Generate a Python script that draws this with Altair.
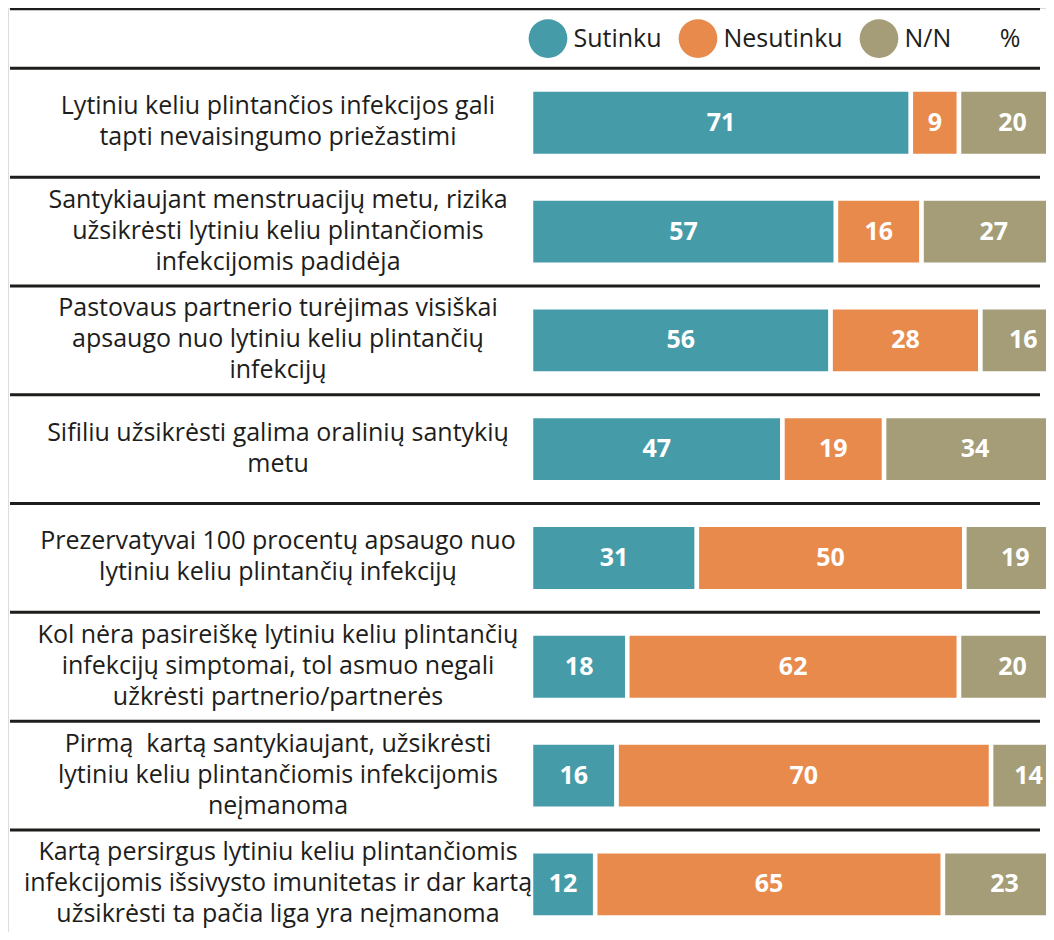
import altair as alt
import pandas as pd

# ---------------- data ----------------
statements = [
    "Lytiniu keliu plintančios infekcijos gali\ntapti nevaisingumo priežastimi",
    "Santykiaujant menstruacijų metu, rizika\nužsikrėsti lytiniu keliu plintančiomis\ninfekcijomis padidėja",
    "Pastovaus partnerio turėjimas visiškai\napsaugo nuo lytiniu keliu plintančių\ninfekcijų",
    "Sifiliu užsikrėsti galima oralinių santykių\nmetu",
    "Prezervatyvai 100 procentų apsaugo nuo\nlytiniu keliu plintančių infekcijų",
    "Kol nėra pasireiškę lytiniu keliu plintančių\ninfekcijų simptomai, tol asmuo negali\nužkrėsti partnerio/partnerės",
    "Pirmą\u00a0 kartą santykiaujant, užsikrėsti\nlytiniu keliu plintančiomis infekcijomis\nneįmanoma",
    "Kartą persirgus lytiniu keliu plintančiomis\ninfekcijomis išsivysto imunitetas ir dar kartą\nužsikrėsti ta pačia liga yra neįmanoma",
]
categories = ["Sutinku", "Nesutinku", "N/N"]
sutinku = [71, 57, 56, 47, 31, 18, 16, 12]
nesutinku = [9, 16, 28, 19, 50, 62, 70, 65]
nn = [20, 27, 16, 34, 19, 20, 14, 23]
unit_label = ["%"]

colors = ["#459CA8", "#E88A4C", "#A49D78"]
FONT = "Open Sans"
INK = "#1d1d1b"

# ---------------- tables ----------------
rows = []
for i, vals in enumerate(zip(sutinku, nesutinku, nn)):
    start = 0
    for k, (cat, v) in enumerate(zip(categories, vals)):
        rows.append({"row": i, "cat": cat, "order": k, "value": v,
                     "start": start, "end": start + v})
        start += v
bars_df = pd.DataFrame(rows)
labels_df = pd.DataFrame({"row": list(range(len(statements))), "text": statements})

W, H = 1038, 924
ROW_PX = 108.8
HEADER = 59.5 / ROW_PX   # height of the legend band, in row units
TOP = HEADER + 0.008
LINE_H = 31
TEXT_SHIFT = 1.0  # px upward
sep_df = pd.DataFrame({"b": [-HEADER] + list(range(len(statements)))})

y_scale = alt.Scale(domain=[-TOP, -TOP + H / ROW_PX], reverse=True, nice=False, zero=False)
x_scale = alt.Scale(domain=[0, 100], range=[523, 1058], nice=False, zero=False)
color_scale = alt.Scale(domain=categories, range=colors)

bars = alt.Chart(bars_df).transform_calculate(
    y0="datum.row + 0.5 - 0.305", y1="datum.row + 0.5 + 0.305"
).mark_bar(stroke="white", strokeWidth=4.5, clip=True, opacity=1).encode(
    x=alt.X("start:Q", scale=x_scale, axis=None),
    x2="end:Q",
    y=alt.Y("y0:Q", scale=y_scale, axis=None),
    y2="y1:Q",
    color=alt.Color(
        "cat:N", scale=color_scale,
        legend=alt.Legend(
            orient="none", legendX=520.5, legendY=11, direction="horizontal",
            title=None, symbolType="circle", symbolSize=1500,
            symbolStrokeWidth=0, symbolOpacity=1, labelFontSize=25,
            labelFont=FONT, labelColor=INK, labelOffset=6,
            columnPadding=16, padding=0, labelLimit=300,
        ),
    ),
    order=alt.Order("order:Q"),
)

values = alt.Chart(bars_df).transform_calculate(
    mid="(datum.start + datum.end) / 2", ym="datum.row + 0.5"
).mark_text(font=FONT, fontWeight="bold", fontSize=25, color="white",
            align="center", baseline="middle").encode(
    x=alt.X("mid:Q", scale=x_scale, axis=None),
    y=alt.Y("ym:Q", scale=y_scale, axis=None),
    text="value:Q",
)

texts = alt.Chart(labels_df).transform_calculate(
    nlines="split(datum.text, '\\n').length",
).transform_calculate(
    ym=(f"datum.row + 0.5 - ((datum.nlines - 1) * {LINE_H / 2} + {TEXT_SHIFT})"
        f" / {ROW_PX}")
).mark_text(font=FONT, fontSize=25, color=INK, align="center",
            baseline="middle", lineBreak="\n", lineHeight=LINE_H).encode(
    x=alt.value(270),
    y=alt.Y("ym:Q", scale=y_scale, axis=None),
    text="text:N",
)

seps = alt.Chart(sep_df).mark_rule(strokeWidth=3, color=INK).encode(
    y=alt.Y("b:Q", scale=y_scale, axis=None),
    x=alt.value(2),
    x2=alt.value(1032),
)

pct = alt.Chart(pd.DataFrame({"t": unit_label})).mark_text(
    font=FONT, fontSize=25, color=INK, align="center", baseline="middle"
).encode(x=alt.value(1002), y=alt.value(31), text="t:N")

chart = alt.layer(seps, bars, values, texts, pct).properties(
    width=W, height=H, padding=0, autosize=alt.AutoSizeParams(type="none")
).configure_view(strokeWidth=0).configure(background="white")

chart.save("out.html", embed_options={"renderer": "svg", "actions": False})
